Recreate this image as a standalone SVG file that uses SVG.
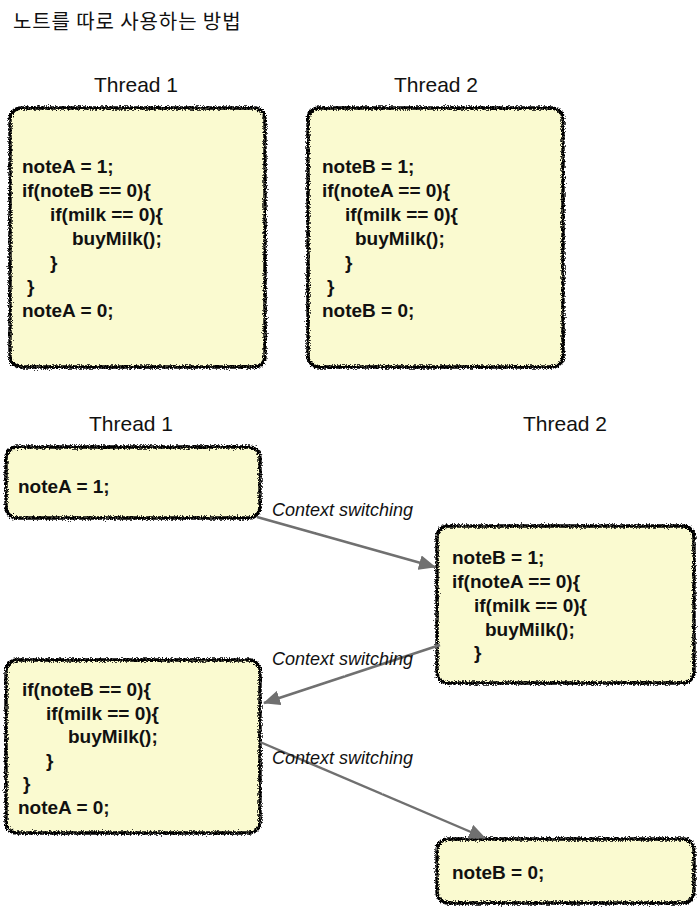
<svg xmlns="http://www.w3.org/2000/svg" width="698" height="908" viewBox="0 0 698 908">
  <defs>
    <style>
      .title { font-family: "Noto Sans CJK KR", "Liberation Sans", sans-serif; font-size: 20px; letter-spacing: 0.9px; fill: #111; }
      .head { font-family: "Liberation Sans", Arial, sans-serif; font-size: 21px; fill: #111; text-anchor: middle; }
      .code { font-family: "Liberation Sans", Arial, sans-serif; font-size: 19px; font-weight: bold; fill: #111; }
      .lbl { font-family: "Liberation Sans", Arial, sans-serif; font-size: 18px; font-style: italic; fill: #111; }
      .fill { fill: #fafad0; stroke: none; }
      .edge { fill: none; stroke: #000; stroke-width: 3.4; filter: url(#rough); }
      .wire { fill: none; stroke: #6f6f6f; stroke-width: 2.4; marker-end: url(#head); }
    </style>
    <!-- jagged, hand-inked outline -->
    <filter id="rough" x="-5%" y="-5%" width="110%" height="110%">
      <feTurbulence type="fractalNoise" baseFrequency="0.75" numOctaves="3" seed="4" result="noise"/>
      <feDisplacementMap in="SourceGraphic" in2="noise" scale="5.5" xChannelSelector="R" yChannelSelector="G"/>
    </filter>
    <filter id="grain" x="-5%" y="-5%" width="110%" height="110%">
      <feTurbulence type="fractalNoise" baseFrequency="0.9" numOctaves="1" seed="7" result="noise"/>
      <feDisplacementMap in="SourceGraphic" in2="noise" scale="1.8" xChannelSelector="R" yChannelSelector="G"/>
    </filter>
    <marker id="head" viewBox="0 0 17 15" refX="16" refY="7.5" markerWidth="17" markerHeight="15" markerUnits="userSpaceOnUse" orient="auto">
      <path d="M0,0 L17,7.5 L0,15 Z" fill="#6f6f6f"/>
    </marker>
  </defs>

  <rect width="698" height="908" fill="#ffffff"/>

  <text class="title" x="13" y="29">노트를 따로 사용하는 방법</text>

  <!-- upper pair: both threads side by side -->
  <text class="head" x="136" y="92">Thread 1</text>
  <text class="head" x="436" y="92">Thread 2</text>

  <g id="t1-full">
    <rect class="fill" x="10" y="108" width="255" height="259" rx="11"/>
    <rect class="edge" x="10" y="108" width="255" height="259" rx="11"/>
    <text class="code" x="22" y="173">noteA = 1;</text>
    <text class="code" x="22" y="197">if(noteB == 0){</text>
    <text class="code" x="50" y="221">if(milk == 0){</text>
    <text class="code" x="72" y="245">buyMilk();</text>
    <text class="code" x="50" y="269">}</text>
    <text class="code" x="27" y="293">}</text>
    <text class="code" x="22" y="317">noteA = 0;</text>
  </g>

  <g id="t2-full">
    <rect class="fill" x="308" y="108" width="255" height="259" rx="11"/>
    <rect class="edge" x="308" y="108" width="255" height="259" rx="11"/>
    <text class="code" x="322" y="173">noteB = 1;</text>
    <text class="code" x="322" y="197">if(noteA == 0){</text>
    <text class="code" x="345" y="221">if(milk == 0){</text>
    <text class="code" x="355" y="245">buyMilk();</text>
    <text class="code" x="345" y="269">}</text>
    <text class="code" x="327" y="293">}</text>
    <text class="code" x="322" y="317">noteB = 0;</text>
  </g>

  <!-- lower part: interleaved execution -->
  <text class="head" x="131" y="431">Thread 1</text>
  <text class="head" x="565" y="431">Thread 2</text>

  <g id="t1-step1">
    <rect class="fill" x="6" y="447" width="254" height="71" rx="11"/>
    <rect class="edge" x="6" y="447" width="254" height="71" rx="11"/>
    <text class="code" x="18" y="493">noteA = 1;</text>
  </g>

  <g id="t2-step1">
    <rect class="fill" x="437" y="526" width="257" height="157" rx="11"/>
    <rect class="edge" x="437" y="526" width="257" height="157" rx="11"/>
    <text class="code" x="452" y="564">noteB = 1;</text>
    <text class="code" x="452" y="588">if(noteA == 0){</text>
    <text class="code" x="474" y="612">if(milk == 0){</text>
    <text class="code" x="485" y="636">buyMilk();</text>
    <text class="code" x="474" y="659">}</text>
  </g>

  <g id="t1-step2">
    <rect class="fill" x="6" y="660" width="254" height="173" rx="11"/>
    <rect class="edge" x="6" y="660" width="254" height="173" rx="11"/>
    <text class="code" x="22" y="696">if(noteB == 0){</text>
    <text class="code" x="46" y="719.5">if(milk == 0){</text>
    <text class="code" x="68" y="743">buyMilk();</text>
    <text class="code" x="46" y="766.5">}</text>
    <text class="code" x="23" y="790">}</text>
    <text class="code" x="18" y="813.5">noteA = 0;</text>
  </g>

  <g id="t2-step2">
    <rect class="fill" x="437" y="839" width="257" height="64" rx="11"/>
    <rect class="edge" x="437" y="839" width="257" height="64" rx="11"/>
    <text class="code" x="452" y="879">noteB = 0;</text>
  </g>

  <g id="connectors" filter="url(#grain)">
    <line class="wire" x1="257" y1="517" x2="435" y2="567"/>
    <line class="wire" x1="440" y1="645" x2="264" y2="703"/>
    <line class="wire" x1="260" y1="742" x2="485" y2="838"/>
  </g>

  <g id="labels">
    <text class="lbl" x="272" y="516">Context switching</text>
    <text class="lbl" x="272" y="665">Context switching</text>
    <text class="lbl" x="272" y="764">Context switching</text>
  </g>
</svg>
